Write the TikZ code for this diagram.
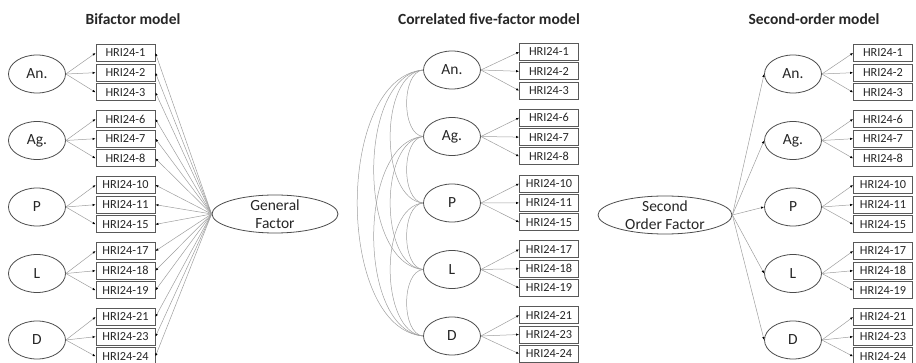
\documentclass[tikz,border=0pt]{standalone}
\usepackage{fontspec}
\setmainfont{Carlito}
\usetikzlibrary{positioning,arrows.meta,shapes.geometric}
\tikzset{
    x=1pt,
    y=-1pt,
    item/.style = {
        draw=black!65,
        shape=rectangle,
        minimum height=17pt,
        minimum width=59pt,
        inner sep=0pt,
        line width=0.8pt,
        text=black!85,
        font=\fontsize{12.3}{14}\selectfont
    },
    factor/.style = {
        draw=black!70,
        shape=ellipse,
        minimum height=38pt,
        minimum width=57pt,
        inner sep=0pt,
        line width=0.8pt,
        text=black!85,
        font=\fontsize{15.5}{18}\selectfont
    },
    general/.style = {
        factor,
        align=center,
        inner ysep=-3pt
    },
    title/.style = {
        text=black!85,
        font=\bfseries\fontsize{15.5}{18}\selectfont
    },
    load/.style = {
        draw=black!38,
        line width=0.5pt,
        -{Latex[length=3pt,width=2.4pt,black]}
    },
    cov/.style = {
        draw=black!38,
        line width=0.5pt
    },
}

\begin{document}
\begin{tikzpicture}
    \useasboundingbox (0,0) rectangle (916,363);

    % bifactor model
    \node[title] (bt) at (133,19) {Bifactor model};
    \node[general, minimum width=126pt] (gen) at (275,214) {General\\Factor};
    \foreach \f/\a/\b/\c [count=\i from 0] in {An./1/2/3, Ag./6/7/8, P/10/11/15, L/17/18/19, D/21/23/24} {
        \node[factor] (bf\i) at (37, 74+66.5*\i) {\f};
        \foreach \n [count=\j from 0] in {\a,\b,\c} {
            \node[item] (bi\i\j) at (125.5, 53+66*\i+19.7*\j) {HRI24-\n};
            \path[load] (bf\i.east) -- (bi\i\j.west);
            \path[load] (gen.west) -- (bi\i\j.east);
        }
    }

    % correlated five-factor model
    \node[title] (ct) at (489,19) {Correlated five-factor model};
    \foreach \f/\a/\b/\c [count=\i from 0] in {An./1/2/3, Ag./6/7/8, P/10/11/15, L/17/18/19, D/21/23/24} {
        \node[factor] (cf\i) at (452, 70+66.5*\i) {\f};
        \foreach \n [count=\j from 0] in {\a,\b,\c} {
            \node[item] (ci\i\j) at (549, 52+65.8*\i+19.3*\j) {HRI24-\n};
            \path[load] (cf\i.east) -- (ci\i\j.west);
        }
    }
    \foreach \i/\k in {0/1,0/2,0/3,0/4,1/2,1/3,1/4,2/3,2/4,3/4}
        \path[cov] (cf\i.west) to[out=185, in=175, looseness=0.85] (cf\k.west);

    % second-order model
    \node[title] (st) at (814,19) {Second-order model};
    \node[general, minimum width=134pt] (sec) at (665,215) {Second\\Order Factor};
    \foreach \f/\a/\b/\c [count=\i from 0] in {An./1/2/3, Ag./6/7/8, P/10/11/15, L/17/18/19, D/21/23/24} {
        \node[factor] (sf\i) at (793, 74+66.5*\i) {\f};
        \path[load] (sec.east) -- (sf\i.west);
        \foreach \n [count=\j from 0] in {\a,\b,\c} {
            \node[item] (si\i\j) at (883, 53+66*\i+19.7*\j) {HRI24-\n};
            \path[load] (sf\i.east) -- (si\i\j.west);
        }
    }
\end{tikzpicture}
\end{document}
